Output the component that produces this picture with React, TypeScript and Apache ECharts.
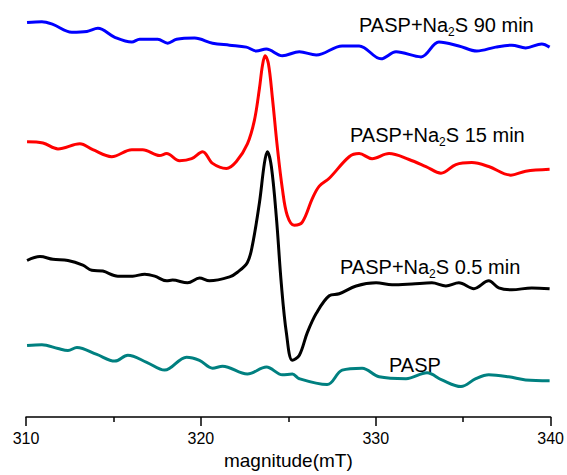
import React, { useEffect, useRef } from "react";
import * as echarts from "echarts";

// Magnetic field (mT) and signal (a.u.)
const field90 = [310.06, 310.91, 311.54, 312.62, 313.48, 314.11, 315.08, 316.05, 316.5, 317.53, 318.1, 318.61, 319.64, 320.67, 321.64, 322.6, 323.17, 323.74, 324.66, 325.63, 326.6, 328.08, 329.05, 330.3, 331.16, 332.59, 333.61, 334.75, 335.78, 336.86, 337.78, 338.57, 339.49, 339.94];
const signal90 = [100.8, 101.0, 100.3, 98.3, 98.5, 99.3, 97.0, 95.8, 96.5, 96.5, 95.5, 96.5, 96.8, 95.5, 95.0, 94.5, 93.5, 94.0, 92.3, 93.3, 92.5, 94.8, 94.8, 91.5, 93.3, 92.0, 95.8, 94.8, 93.5, 94.5, 95.0, 94.3, 95.3, 94.5];

const field15 = [310.06, 310.97, 311.83, 313.08, 313.82, 314.9, 316.05, 316.67, 317.64, 318.04, 318.78, 319.47, 320.1, 320.67, 321.46, 322.03, 322.66, 323.06, 323.35, 323.52, 323.67, 323.86, 324.09, 324.37, 324.66, 324.94, 325.34, 325.8, 326.37, 326.77, 327.34, 328.48, 329.05, 329.79, 330.76, 331.9, 332.87, 333.73, 334.58, 335.49, 336.46, 337.72, 338.57, 339.94];
const signal15 = [70.3, 70.0, 68.5, 69.8, 68.3, 66.5, 68.3, 68.3, 66.8, 67.3, 65.5, 66.0, 67.8, 64.8, 63.5, 65.3, 69.8, 75.8, 84.0, 89.8, 92.3, 90.3, 81.5, 69.0, 58.3, 51.5, 49.0, 49.8, 55.8, 59.0, 61.0, 66.5, 67.3, 66.0, 67.3, 65.8, 64.0, 62.3, 64.5, 65.0, 64.0, 61.8, 62.8, 63.3];

const field05 = [310.06, 310.8, 311.54, 312.4, 313.25, 313.76, 314.39, 315.25, 316.1, 316.79, 317.36, 318.04, 318.38, 319.24, 319.92, 320.49, 321.64, 322.09, 322.66, 322.95, 323.35, 323.63, 323.8, 324.03, 324.32, 324.6, 324.89, 325.23, 325.63, 326.08, 326.6, 327.34, 327.91, 328.88, 330.02, 330.93, 332.07, 333.21, 334.01, 334.75, 335.61, 336.46, 337.03, 337.78, 338.92, 339.94];
const signal05 = [40.0, 41.0, 40.3, 40.0, 38.8, 37.5, 37.3, 36.0, 36.0, 36.5, 36.0, 34.8, 35.0, 34.3, 35.5, 34.8, 35.8, 37.0, 39.5, 44.0, 54.8, 64.8, 67.8, 64.0, 50.8, 34.0, 21.5, 14.5, 15.8, 21.5, 26.5, 31.0, 31.5, 33.5, 34.3, 33.8, 34.0, 34.3, 33.5, 34.3, 32.8, 34.8, 33.0, 32.5, 33.0, 32.8];

const fieldPASP = [310.06, 310.91, 311.83, 312.4, 312.91, 314.05, 315.08, 315.82, 316.9, 317.93, 319.18, 319.92, 320.67, 321.24, 322.66, 323.75, 324.66, 325.23, 325.63, 327.22, 328.08, 329.22, 330.19, 331.73, 332.93, 333.78, 334.87, 335.72, 336.46, 337.6, 338.57, 339.94];
const signalPASP = [18.3, 18.5, 17.5, 17.0, 17.8, 16.0, 14.3, 15.8, 14.0, 12.0, 15.3, 14.5, 12.5, 13.0, 11.0, 12.8, 10.8, 11.0, 9.8, 8.3, 12.0, 12.5, 10.3, 9.8, 11.3, 9.5, 7.8, 9.8, 10.8, 10.3, 9.5, 9.3];

const xTicks = [310, 320, 330, 340];
const xName = "magnitude(mT)";

const seriesNames = ["PASP+Na2S 90 min", "PASP+Na2S 15 min", "PASP+Na2S 0.5 min", "PASP"];
const seriesColors = ["#0000FF", "#FF0000", "#000000", "#008080"];
const fields = [field90, field15, field05, fieldPASP];
const signals = [signal90, signal15, signal05, signalPASP];

const FONT = "'Liberation Sans', Arial, sans-serif";

function richLabel(name: string) {
  const i = name.indexOf("Na2S");
  if (i < 0) return `{a|${name}}`;
  return `{a|${name.slice(0, i)}Na}{s|2}{a|S${name.slice(i + 4)}}`;
}

export default function App() {
  const ref = useRef<HTMLDivElement>(null);
  useEffect(() => {
    document.body.style.margin = "0";
    const chart = echarts.init(ref.current!, null, { renderer: "svg" });
    const labelPos = [
      { x: 359, y: 25 },
      { x: 350, y: 135 },
      { x: 340, y: 267 },
      { x: 389, y: 365 },
    ];
    chart.setOption({
      animation: false,
      backgroundColor: "#ffffff",
      grid: { left: 26, right: 15, top: 6, bottom: 49 },
      xAxis: {
        type: "value",
        min: xTicks[0],
        max: xTicks[xTicks.length - 1],
        interval: 10,
        name: xName,
        nameLocation: "middle",
        nameGap: 28,
        nameTextStyle: { fontFamily: FONT, fontSize: 19, color: "#000" },
        axisLine: { onZero: false, lineStyle: { color: "#000", width: 1.5 } },
        axisTick: { length: 9, lineStyle: { color: "#000", width: 1.5 } },
        minorTick: { show: true, splitNumber: 2, length: 5, lineStyle: { color: "#000", width: 1.5 } },
        axisLabel: { fontFamily: FONT, fontSize: 16, color: "#000", margin: 13 },
        splitLine: { show: false },
      },
      yAxis: { type: "value", min: 0, max: 105, show: false },
      series: seriesNames.map((n, k) => ({
        name: n,
        type: "line",
        data: fields[k].map((f, j) => [f, signals[k][j]]),
        smooth: 0.35,
        showSymbol: false,
        lineStyle: { color: seriesColors[k], width: 3 },
        itemStyle: { color: seriesColors[k] },
      })),
      graphic: seriesNames.map((n, k) => ({
        type: "text",
        x: labelPos[k].x,
        y: labelPos[k].y,
        style: {
          text: richLabel(n),
          verticalAlign: "middle",
          rich: {
            a: { fontFamily: FONT, fontSize: 20, fill: "#000", lineHeight: 24 },
            s: { fontFamily: FONT, fontSize: 12, fill: "#000", lineHeight: 24, padding: [14, 0, 0, 0] },
          },
        },
      })),
    });
    return () => chart.dispose();
  }, []);
  return <div ref={ref} style={{ width: 567, height: 475 }} />;
}
